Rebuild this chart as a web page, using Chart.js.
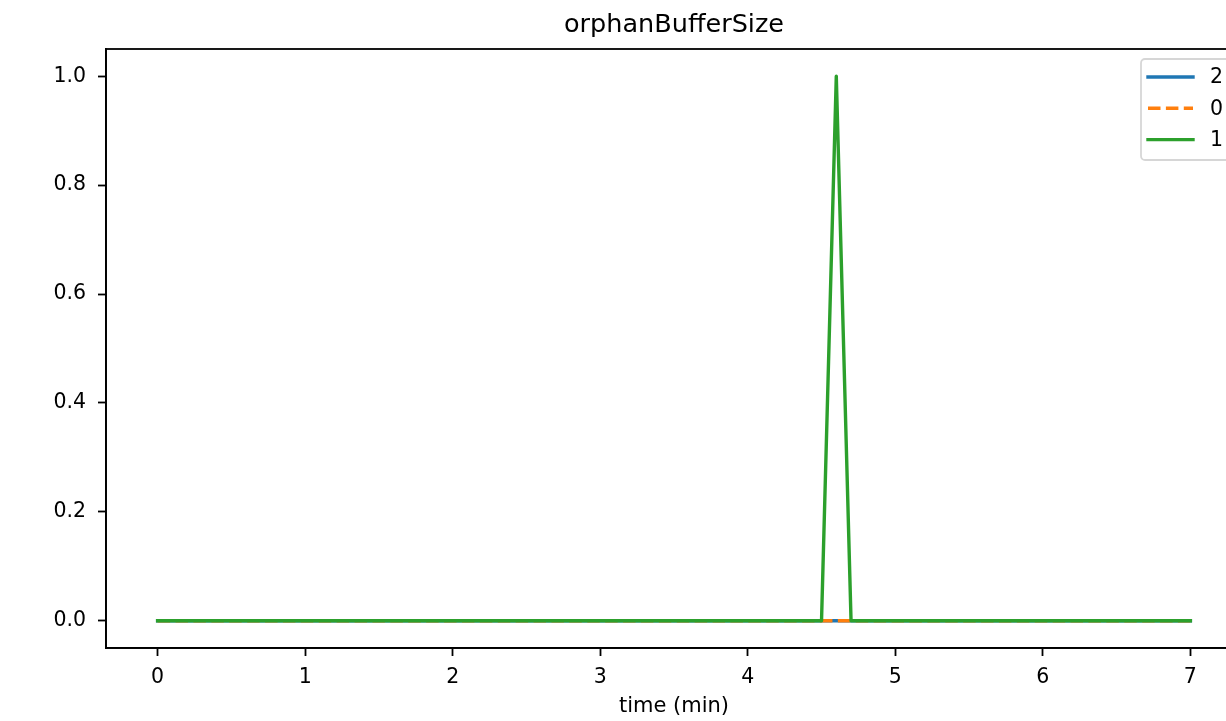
<!DOCTYPE html>
<html>
<head>
<meta charset="utf-8">
<script src="https://cdn.jsdelivr.net/npm/chart.js@4.4.1/dist/chart.umd.min.js"></script>
<style>
  html, body { margin: 0; padding: 0; background: #fff; overflow: hidden; }
  #wrap { width: 1226px; height: 721px; overflow: hidden; }
  canvas { display: block; }
</style>
</head>
<body>
<div id="wrap"><canvas id="c" width="1260" height="721"></canvas></div>
<script>
// ---- data ----
const chartTitle = "orphanBufferSize";
const xLabel = "time (min)";
const times   = [0, 4.5, 4.6, 4.7, 7.0];
const series2 = [0, 0, 0, 0, 0];
const series0 = [0, 0, 0, 0, 0];
const series1 = [0, 0, 1, 0, 0];
const seriesNames = ["2", "0", "1"];
const xTicks = [0, 1, 2, 3, 4, 5, 6, 7];
const yTicks = [0.0, 0.2, 0.4, 0.6, 0.8, 1.0];

const colors = ["#1f77b4", "#ff7f0e", "#2ca02c"];
const FONT = "'DejaVu Sans', sans-serif";
const LW = 3.4;

function pts(ys) { return times.map((t, i) => ({ x: t, y: ys[i] })); }

const framePlugin = {
  id: 'frame',
  afterDatasetsDraw(chart) {
    const { ctx, chartArea: a } = chart;
    ctx.save();
    ctx.strokeStyle = '#000';
    ctx.lineWidth = 1.8;
    ctx.strokeRect(a.left, a.top, a.right - a.left, a.bottom - a.top);
    ctx.restore();
  },
  afterDraw(chart) {
    const { ctx, chartArea: a } = chart;
    ctx.save();
    // title
    ctx.fillStyle = '#000';
    ctx.font = `25.5px ${FONT}`;
    ctx.textAlign = 'center';
    ctx.textBaseline = 'middle';
    ctx.fillText(chartTitle, (a.left + a.right) / 2, 25);
    // x label
    ctx.font = `21px ${FONT}`;
    ctx.fillText(xLabel, (a.left + a.right) / 2, 707);
    // legend
    const lw = 91, lh = 101;
    const lx = a.right - 10 - lw, ly = a.top + 10;
    ctx.beginPath();
    ctx.roundRect(lx, ly, lw, lh, 4);
    ctx.fillStyle = 'rgba(255,255,255,0.8)';
    ctx.fill();
    ctx.strokeStyle = 'rgba(204,204,204,0.8)';
    ctx.lineWidth = 1.8;
    ctx.stroke();
    const dsets = chart.data.datasets;
    for (let i = 0; i < dsets.length; i++) {
      const y = ly + 18 + i * 31.3;
      ctx.beginPath();
      ctx.setLineDash(dsets[i].borderDash || []);
      ctx.lineCap = dsets[i].borderDash ? 'butt' : 'square';
      ctx.strokeStyle = dsets[i].borderColor;
      ctx.lineWidth = LW;
      ctx.moveTo(lx + 7, y);
      ctx.lineTo(lx + 52, y);
      ctx.stroke();
      ctx.setLineDash([]);
      ctx.fillStyle = '#000';
      ctx.font = `20.5px ${FONT}`;
      ctx.textAlign = 'left';
      ctx.textBaseline = 'middle';
      ctx.fillText(dsets[i].label, lx + 69, y + 1);
    }
    ctx.restore();
  }
};

new Chart(document.getElementById('c'), {
  type: 'line',
  data: {
    datasets: [
      { label: seriesNames[0], data: pts(series2), borderColor: colors[0], borderWidth: LW,
        borderCapStyle: 'square', borderJoinStyle: 'round', order: 3 },
      { label: seriesNames[1], data: pts(series0), borderColor: colors[1], borderWidth: LW,
        borderDash: [12.5, 5.4], borderCapStyle: 'butt', borderJoinStyle: 'round', order: 2 },
      { label: seriesNames[2], data: pts(series1), borderColor: colors[2], borderWidth: LW,
        borderCapStyle: 'square', borderJoinStyle: 'round', order: 1 }
    ]
  },
  options: {
    responsive: false,
    animation: false,
    devicePixelRatio: 1,
    layout: { padding: { left: 0, right: 18, top: 49, bottom: 0 } },
    elements: { point: { radius: 0 }, line: { tension: 0, fill: false } },
    plugins: { legend: { display: false }, title: { display: false }, tooltip: { enabled: false } },
    scales: {
      x: {
        type: 'linear', min: -0.35, max: 7.35,
        afterBuildTicks(s) { s.ticks = xTicks.map(v => ({ value: v })); },
        afterFit(s) { s.height = 73; },
        ticks: { color: '#000', font: { family: FONT, size: 20.5 }, padding: 9, maxRotation: 0,
                 callback: v => String(v) },
        grid: { drawOnChartArea: false, tickLength: 8, tickColor: '#000', tickWidth: 1.8 },
        border: { color: '#000', width: 1.8 }
      },
      y: {
        type: 'linear', min: -0.05, max: 1.05,
        afterBuildTicks(s) { s.ticks = yTicks.map(v => ({ value: v })); },
        afterFit(s) { s.width = 106; },
        ticks: { color: '#000', font: { family: FONT, size: 20.5 }, padding: 12,
                 callback: v => Number(v).toFixed(1) },
        grid: { drawOnChartArea: false, tickLength: 8, tickColor: '#000', tickWidth: 1.8 },
        border: { color: '#000', width: 1.8 }
      }
    }
  },
  plugins: [framePlugin]
});
</script>
</body>
</html>
